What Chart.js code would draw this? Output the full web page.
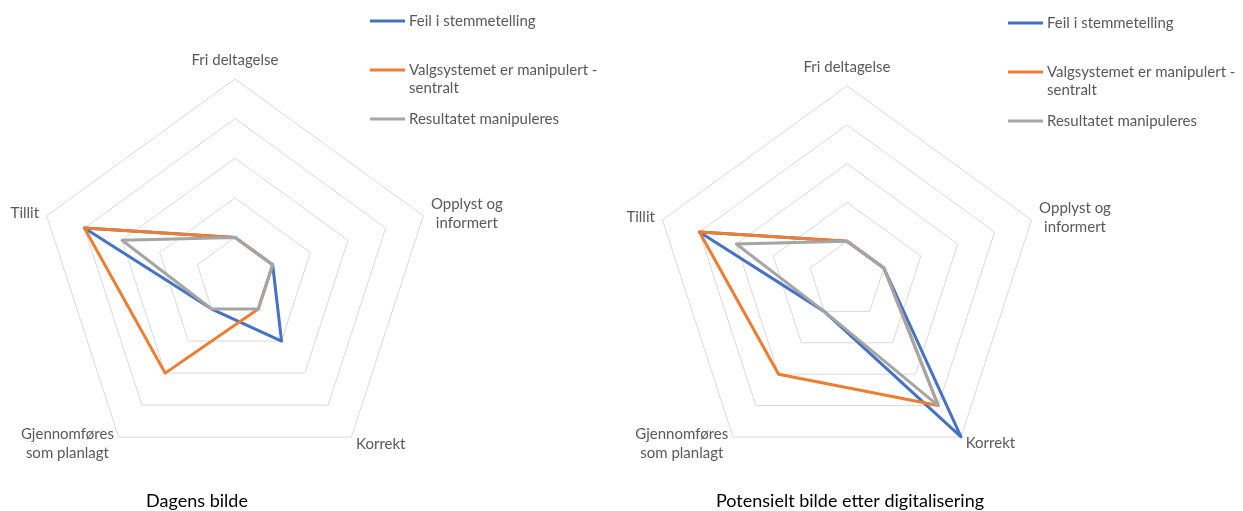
<!DOCTYPE html>
<html>
<head>
<meta charset="utf-8">
<script src="https://cdn.jsdelivr.net/npm/chart.js@4.4.0/dist/chart.umd.min.js"></script>
<style>
  html, body { margin: 0; padding: 0; background: #ffffff; }
  #wrap { position: relative; width: 1243px; height: 511px; overflow: hidden; background: #fff; }
  canvas { position: absolute; top: 0; }
  #c1 { left: 0; }
  #c2 { left: 620px; }
</style>
</head>
<body>
<div id="wrap">
  <canvas id="c1" width="620" height="511"></canvas>
  <canvas id="c2" width="623" height="511"></canvas>
</div>
<script>
// ---- data ----
const categories = ["Fri deltagelse", ["Opplyst og", "informert"], "Korrekt", ["Gjennomføres", "som planlagt"], "Tillit"];
const seriesNames = ["Feil i stemmetelling", "Valgsystemet er manipulert - sentralt", "Resultatet manipuleres"];
const dagensFeil = [1, 1, 2, 1, 4];
const dagensValg = [1, 1, 1, 3, 4];
const dagensResultat = [1, 1, 1, 1, 3];
const potensFeil = [1, 1, 5, 1, 4];
const potensValg = [1, 1, 4, 3, 4];
const potensResultat = [1, 1, 4, 1, 3];
const chartTitles = ["Dagens bilde", "Potensielt bilde etter digitalisering"];
const scaleMin = 0, scaleMax = 5, scaleStep = 1;

// ---- styles ----
const colors = ["#4472C4", "#ED7D31", "#A5A5A5"];
const labelFont = "15px Lato, 'Open Sans', sans-serif";
const titleFont = "18px Lato, 'Open Sans', sans-serif";
const textColor = "#595959";

function wrapText(ctx, text, maxW) {
  const words = text.split(" ");
  const lines = [];
  let cur = "";
  words.forEach(w => {
    const test = cur ? cur + " " + w : w;
    if (ctx.measureText(test).width > maxW && cur) { lines.push(cur); cur = w; }
    else cur = test;
  });
  if (cur) lines.push(cur);
  return lines;
}

const textPlugin = {
  id: 'textPlugin',
  afterDraw(chart, args, o) {
    const ctx = chart.ctx;
    const scale = chart.scales.r;
    ctx.save();
    // point labels
    ctx.font = labelFont;
    ctx.fillStyle = textColor;
    ctx.textBaseline = 'middle';
    const lh = 19;
    chart.data.labels.forEach((lab, i) => {
      const lines = Array.isArray(lab) ? lab : [lab];
      const p = scale.getPointPosition(i, scale.drawingArea + o.labelGap);
      const dx = p.x - scale.xCenter;
      const dy = p.y - scale.yCenter;
      const bw = Math.max(...lines.map(l => ctx.measureText(l).width));
      let left;
      if (Math.abs(dx) < 1) left = p.x - bw / 2;
      else if (dx > 0) left = p.x;
      else left = p.x - bw;
      let cy;
      if (Math.abs(dx) < 1 && dy < 0) cy = p.y - o.topExtra - (lines.length * lh) / 2;
      else cy = p.y;
      const y0 = cy - ((lines.length - 1) * lh) / 2;
      ctx.textAlign = 'center';
      lines.forEach((ln, k) => ctx.fillText(ln, left + bw / 2, y0 + k * lh));
    });
    // legend
    ctx.textAlign = 'left';
    chart.data.datasets.forEach((ds, i) => {
      const y = o.legendTop + i * o.legendStep;
      ctx.strokeStyle = ds.borderColor;
      ctx.lineWidth = 3;
      ctx.beginPath();
      ctx.moveTo(o.legendX, y);
      ctx.lineTo(o.legendX + 35, y);
      ctx.stroke();
      ctx.fillStyle = textColor;
      const lines = wrapText(ctx, ds.label, o.legendMaxW);
      lines.forEach((ln, k) => ctx.fillText(ln, o.legendX + 39, y + k * 18));
    });
    // title
    ctx.font = titleFont;
    ctx.fillStyle = '#000000';
    ctx.textAlign = 'center';
    ctx.fillText(o.title, o.titleX, o.titleY);
    ctx.restore();
  }
};

function makeChart(id, values, title, padding, extra) {
  const datasets = values.map((v, i) => ({
    label: seriesNames[i],
    data: v,
    borderColor: colors[i],
    backgroundColor: colors[i],
    borderWidth: 3,
    fill: false,
    pointRadius: 0,
    pointHoverRadius: 0,
    borderJoinStyle: 'round',
    borderCapStyle: 'round',
    order: values.length - i
  }));
  return new Chart(document.getElementById(id), {
    type: 'radar',
    data: { labels: categories, datasets },
    options: {
      responsive: false,
      animation: false,
      devicePixelRatio: 1,
      layout: { padding },
      plugins: {
        legend: { display: false },
        tooltip: { enabled: false },
        title: { display: false },
        textPlugin: Object.assign({ title, labelGap: 8, topExtra: 1 }, extra)
      },
      scales: {
        r: {
          min: scaleMin,
          max: scaleMax,
          ticks: { display: false, stepSize: scaleStep },
          grid: { color: '#d9d9d9', lineWidth: 1 },
          angleLines: { display: false },
          pointLabels: { display: false }
        }
      }
    },
    plugins: [textPlugin]
  });
}

makeChart('c1', [dagensFeil, dagensValg, dagensResultat], chartTitles[0],
  { left: 37, top: 79, right: 187, bottom: 36 },
  { legendX: 370, legendTop: 21, legendStep: 49, legendMaxW: 200, titleX: 197, titleY: 501 });

makeChart('c2', [potensFeil, potensValg, potensResultat], chartTitles[1],
  { left: 33, top: 86, right: 202, bottom: 37 },
  { legendX: 388, legendTop: 23, legendStep: 49, legendMaxW: 200, titleX: 230, titleY: 501 });
</script>
</body>
</html>
